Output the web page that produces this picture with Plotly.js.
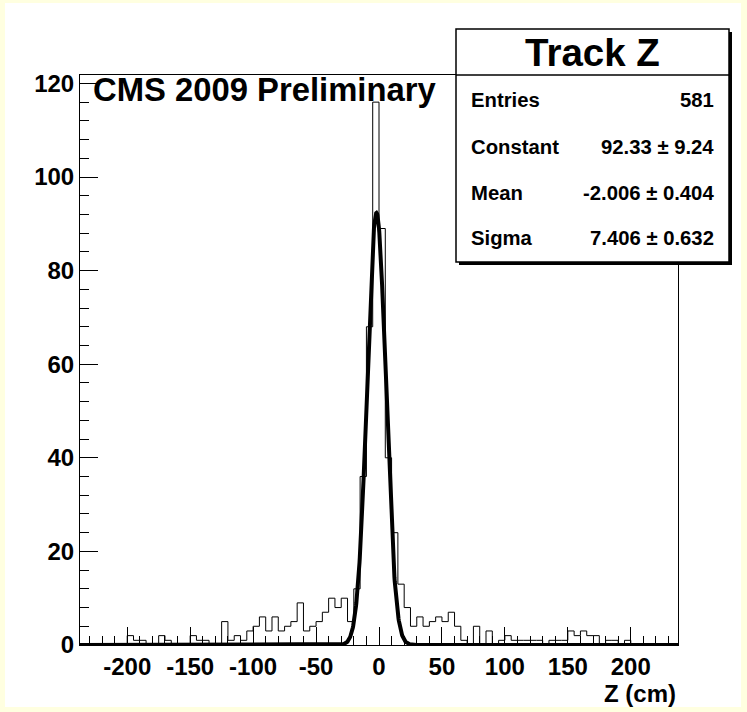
<!DOCTYPE html>
<html>
<head>
<meta charset="utf-8">
<script src="https://cdn.plot.ly/plotly-3.0.1.min.js"></script>
<style>
  html, body { margin: 0; padding: 0; background: #FFFFE0; width: 747px; height: 712px; overflow: hidden; }
  #chart { position: absolute; left: 5px; top: 3px; width: 736px; height: 704px; }
</style>
</head>
<body>
<div id="chart"></div>
<script>
// ---- data ----
const binStart = -240;      // lower edge of first bin (cm)
const binWidth = 5;         // cm
const counts = [
  0,0,0,0,0,0,0,0,
  2,1,1,0,0,2,1,0,0,0,
  2,1,1,0,0,5,1,2,1,
  3,4,6,3,6,3,4,5,9,3,4,5,7,10,8,10,5,
  12,36,68,116,89,40,24,13,8,4,6,4,5,6,5,7,4,1,0,4,0,3,0,1,2,
  1,1,1,1,1,0,1,1,1,3,2,3,2,2,0,1,1,0,1,0,0,0,0,0,0,0,0
];
const xTickVals = [-200,-150,-100,-50,0,50,100,150,200];
const xTickText = ["-200","-150","-100","-50","0","50","100","150","200"];
const yTickVals = [0,20,40,60,80,100,120];
const yTickText = ["0","20","40","60","80","100","120"];
const statLabels = ["Entries","Constant","Mean","Sigma"];
const statValues = ["581","92.33 \u00b1 9.24","-2.006 \u00b1 0.404","7.406 \u00b1 0.632"];
const fitConstant = 92.33, fitMean = -2.006, fitSigma = 7.406;
const histTitle = "Track Z";
const xLabel = "Z (cm)";
const cmsLabel = "CMS 2009 Preliminary";

// ---- build traces ----
const edges = counts.map((_, i) => binStart + i * binWidth);
edges.push(binStart + counts.length * binWidth);
const stepY = counts.concat([counts[counts.length - 1]]);

const fx = [], fy = [];
for (let x = -237.5; x <= 237.5001; x += 0.25) {
  fx.push(x);
  fy.push(fitConstant * Math.exp(-0.5 * Math.pow((x - fitMean) / fitSigma, 2)));
}

const FONT = "Liberation Sans, Arial, Helvetica, sans-serif";

// page-pixel -> paper helpers (plot frame: x 80..678, y 75..645 in page px)
const PX0 = 80, PX1 = 678, PY0 = 75, PY1 = 645;
const px = x => (x - PX0) / (PX1 - PX0);
const py = y => (PY1 - y) / (PY1 - PY0);

const traces = [
  { x: edges, y: stepY, type: "scatter", mode: "lines",
    line: { shape: "hv", color: "#000", width: 1 }, hoverinfo: "skip", showlegend: false },
  { x: fx, y: fy, type: "scatter", mode: "lines",
    line: { color: "#000", width: 4 }, hoverinfo: "skip", showlegend: false }
];

const boxL = 456, boxR = 729, boxT = 29, boxB = 262, divY = 75;
const shapes = [
  { type: "rect", xref: "paper", yref: "paper", layer: "above",
    x0: px(boxL + 3), x1: px(boxR + 3), y0: py(boxB + 3), y1: py(boxT + 3),
    fillcolor: "#000", line: { width: 0 } },
  { type: "rect", xref: "paper", yref: "paper", layer: "above",
    x0: px(boxL), x1: px(boxR), y0: py(boxB), y1: py(boxT),
    fillcolor: "#fff", line: { color: "#000", width: 1.5 } },
  { type: "line", xref: "paper", yref: "paper", layer: "above",
    x0: px(boxL), x1: px(boxR), y0: py(divY), y1: py(divY),
    line: { color: "#000", width: 1.5 } }
];

const rowY = [100, 147, 193, 238];
const annotations = [
  { text: histTitle, xref: "paper", yref: "paper", x: px((boxL + boxR) / 2), y: py(52),
    xanchor: "center", yanchor: "middle", showarrow: false,
    font: { family: FONT, size: 38.5, weight: "bold", color: "#000" } },
  { text: cmsLabel, xref: "paper", yref: "paper", x: px(91), y: py(90),
    xanchor: "left", yanchor: "middle", showarrow: false,
    font: { family: FONT, size: 32.8, weight: "bold", color: "#000" } },
  { text: xLabel, xref: "paper", yref: "paper", x: px(678), y: py(693),
    xanchor: "right", yanchor: "middle", showarrow: false,
    font: { family: FONT, size: 24, weight: "bold", color: "#000" } }
];
statLabels.forEach((lab, i) => {
  annotations.push({ text: lab, xref: "paper", yref: "paper", x: px(469), y: py(rowY[i]),
    xanchor: "left", yanchor: "middle", showarrow: false,
    font: { family: FONT, size: 20.3, weight: "bold", color: "#000" } });
  annotations.push({ text: statValues[i], xref: "paper", yref: "paper", x: px(716), y: py(rowY[i]),
    xanchor: "right", yanchor: "middle", showarrow: false,
    font: { family: FONT, size: 20.3, weight: "bold", color: "#000" } });
});

const layout = {
  width: 736, height: 704,
  margin: { l: PX0 - 5, r: 736 - (PX1 - 5), t: PY0 - 3, b: 704 - (PY1 - 3), pad: 0 },
  paper_bgcolor: "#fff", plot_bgcolor: "#fff",
  showlegend: false,
  xaxis: {
    range: [-237.5, 237.5], tickmode: "array", tickvals: xTickVals, ticktext: xTickText,
    ticks: "inside", ticklen: 18, tickwidth: 1, tickcolor: "#000",
    minor: { dtick: 10, tick0: 0, ticks: "inside", ticklen: 9, tickwidth: 1, tickcolor: "#000", showgrid: false },
    showgrid: false, zeroline: false, showline: true, mirror: true, linecolor: "#000", linewidth: 1,
    tickfont: { family: FONT, size: 24, weight: "bold", color: "#000" }, fixedrange: true
  },
  yaxis: {
    range: [0, 121.8], tickmode: "array", tickvals: yTickVals, ticktext: yTickText,
    ticks: "inside", ticklen: 18, tickwidth: 1, tickcolor: "#000",
    minor: { dtick: 4, tick0: 0, ticks: "inside", ticklen: 9, tickwidth: 1, tickcolor: "#000", showgrid: false },
    showgrid: false, zeroline: false, showline: true, mirror: true, linecolor: "#000", linewidth: 1,
    tickfont: { family: FONT, size: 24, weight: "bold", color: "#000" }, fixedrange: true
  },
  shapes: shapes,
  annotations: annotations
};

Plotly.newPlot("chart", traces, layout, { staticPlot: true, displayModeBar: false });
</script>
</body>
</html>
